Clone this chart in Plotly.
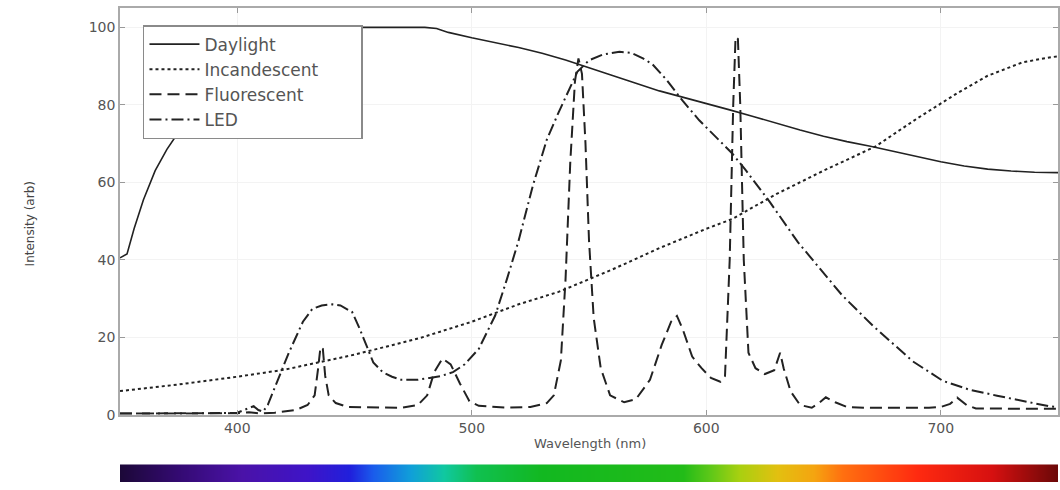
import plotly.graph_objects as go

# ---------------- data ----------------
daylight_nm = [350, 353, 356, 360, 365, 370, 375, 380, 390, 400, 410, 420, 430, 440, 450, 460,
               470, 480, 485, 490, 500, 510, 520, 530, 540, 550, 560, 570, 580, 590, 600, 610,
               620, 630, 640, 650, 660, 670, 680, 690, 700, 710, 720, 730, 740, 750]
daylight_val = [40.5, 41.5, 48, 55.5, 63, 68.5, 73, 77, 84, 90, 94.5, 97.5, 99.2, 99.8, 100, 100,
                100, 100, 99.7, 98.7, 97.3, 96.1, 94.8, 93.3, 91.6, 89.6, 87.5, 85.6, 83.6, 82, 80.3, 78.7,
                77, 75.2, 73.5, 71.9, 70.5, 69.3, 68, 66.6, 65.3, 64.2, 63.4, 62.9, 62.6, 62.5]

incand_nm = [350, 375, 400, 420, 450, 478, 500, 520, 537, 560, 580, 600, 611, 630, 650, 672,
             690, 707, 720, 735, 747, 750]
incand_val = [6.1, 7.8, 9.8, 11.6, 15.5, 19.8, 24, 28.5, 31.7, 37.5, 43, 48, 50.5, 57, 63, 69.2,
              76.5, 83, 87.5, 91, 92.3, 92.5]

fluor_nm = [350, 380, 400, 405, 410, 416, 425, 430, 433, 434.5, 435.5, 436.5, 437.5, 439, 442, 447,
            460, 470, 477, 481, 484, 487.5, 491, 495, 499, 503, 515, 525, 532, 535, 538, 540,
            542, 544, 545.5, 547, 548.5, 550, 552, 555, 559, 565, 570, 576, 581, 585, 587.5, 590,
            594, 598, 602, 606, 608, 610, 611.5, 612.5, 613.5, 614.5, 616, 618, 621, 625, 629, 631.5,
            633, 636, 640, 645, 648, 651, 655, 660, 668, 680, 695, 700, 704, 707, 711, 715,
            730, 740, 750]
fluor_val = [0.3, 0.3, 0.4, 0.6, 0.3, 0.5, 1.2, 2.5, 5, 12, 17.5, 17, 10, 5, 3, 2,
             1.8, 1.8, 2.5, 5, 11, 14.5, 13, 8, 3.5, 2.3, 1.8, 2, 3, 5, 14, 35,
             65, 86, 92, 88, 70, 45, 25, 12, 5, 3.2, 4, 9, 18, 24, 25.5, 22,
             15, 12, 9.5, 8.5, 10, 40, 80, 97.5, 97, 80, 40, 16, 12, 10.5, 11.5, 16,
             12, 6, 2.5, 1.8, 3, 4.5, 3.2, 2, 1.8, 1.8, 1.8, 2, 2.8, 4.4, 2.5, 1.6,
             1.5, 1.6, 1.5]

led_nm = [350, 380, 400, 404, 407, 409, 411, 413, 416, 419, 422, 425, 428, 432, 436, 440.5,
          444, 449, 452, 455, 458, 462, 466, 470, 477, 482, 487, 492, 497, 503, 510, 515,
          520, 526, 532, 537, 540, 545, 550, 556, 563, 568, 573, 577, 583, 590, 597, 605,
          611, 617, 627, 639, 651, 658, 671, 688, 701, 712, 724, 735, 746, 750]
led_val = [0.3, 0.3, 0.5, 1.5, 2.2, 1.2, 0.8, 2.5, 7, 12, 16, 20, 24, 27.3, 28.2, 28.5,
           28.2, 26.5, 22.5, 18, 13.5, 11, 9.8, 9, 9, 9.5, 10, 11, 13, 17, 25.6, 35,
           45, 59, 71, 78, 82, 88.5, 91.5, 93, 93.7, 93.4, 92, 90.5, 86.5, 81, 76, 71,
           67.5, 63, 55, 44.6, 36, 30.8, 23, 13.8, 8.7, 6.5, 4.9, 3.5, 2.2, 1.9]

series_names = ['Daylight', 'Incandescent', 'Fluorescent', 'LED']
x_ticks = [400, 500, 600, 700]
y_ticks = [0, 20, 40, 60, 80, 100]

# spectrum bar colour stops (fraction along the bar)
bar_pos = [0.0, 0.06, 0.13, 0.20, 0.245, 0.27, 0.31, 0.345, 0.38, 0.45, 0.60, 0.63, 0.66, 0.70,
           0.74, 0.77, 0.85, 0.93, 1.0]
bar_colors = ['#1c0838', '#330a70', '#4a12a8', '#3e14c8', '#2020dc', '#1a5cec', '#10a0d8', '#10c8a0',
              '#10c050', '#12b820', '#22bc18', '#60c818', '#a8d010', '#e2c010', '#f5a410', '#ff7010',
              '#ff2a10', '#d61010', '#6a0808']

ink = '#222222'
pad = '\u00a0' * 7  # widens the legend box like the reference

fig = go.Figure()
fig.add_trace(go.Scatter(x=daylight_nm, y=daylight_val, mode='lines', name=series_names[0],
                         line=dict(color=ink, width=1.6)))
fig.add_trace(go.Scatter(x=incand_nm, y=incand_val, mode='lines', name=series_names[1] + pad,
                         line=dict(color=ink, width=2, dash='dot')))
fig.add_trace(go.Scatter(x=fluor_nm, y=fluor_val, mode='lines', name=series_names[2],
                         line=dict(color=ink, width=2, dash='12px,6px')))
fig.add_trace(go.Scatter(x=led_nm, y=led_val, mode='lines', name=series_names[3],
                         line=dict(color=ink, width=2, dash='12px,4px,2px,4px')))

fig.add_trace(go.Heatmap(x=bar_pos, y=[0], z=[bar_pos], zmin=0, zmax=1,
                         colorscale=[[p, c] for p, c in zip(bar_pos, bar_colors)],
                         zsmooth='best', showscale=False, hoverinfo='skip',
                         xaxis='x2', yaxis='y2'))

tickfont = dict(family='DejaVu Sans', size=14, color='#555555')

fig.update_layout(
    width=1060, height=490,
    margin=dict(l=120, r=2, t=8, b=0),
    paper_bgcolor='white', plot_bgcolor='white',
    showlegend=True,
    legend=dict(x=0.0245, y=0.964, xanchor='left', yanchor='top',
                bgcolor='white', bordercolor='#8a8a8a', borderwidth=1.5,
                font=dict(family='DejaVu Sans', size=17, color='#555555'),
                itemwidth=50),
    xaxis=dict(range=[350, 750], domain=[0, 1], anchor='y',
               tickvals=x_ticks, ticks='inside', ticklen=5, tickcolor='#999999',
               showline=True, linecolor='#aaaaaa', linewidth=1.5, mirror='ticks',
               showgrid=True, gridcolor='#f3f3f3', zeroline=False, tickfont=tickfont),
    yaxis=dict(range=[0, 105], domain=[0.142, 1], anchor='x',
               tickvals=y_ticks, ticks='inside', ticklen=5, tickcolor='#999999',
               showline=True, linecolor='#aaaaaa', linewidth=1.5, mirror='ticks',
               showgrid=True, gridcolor='#f3f3f3', zeroline=False, tickfont=tickfont),
    xaxis2=dict(range=[0, 1], domain=[0, 1], anchor='y2', visible=False),
    yaxis2=dict(range=[-0.5, 0.5], domain=[0, 0.0373], anchor='x2', visible=False),
    annotations=[
        dict(text='Intensity (arb)', xref='paper', yref='paper', x=-0.0959, y=0.5436,
             textangle=-90, showarrow=False, xanchor='center', yanchor='middle',
             font=dict(family='DejaVu Sans', size=12, color='#444444')),
        dict(text='Wavelength (nm)', xref='paper', yref='paper', x=0.501, y=0.081,
             showarrow=False, xanchor='center', yanchor='middle',
             font=dict(family='DejaVu Sans', size=13, color='#555555')),
    ],
)

post = (
    "document.documentElement.style.margin='0';"
    "document.documentElement.style.padding='0';"
    "document.documentElement.style.overflow='hidden';"
    "document.body.style.margin='0';"
    "document.body.style.padding='0';"
    "document.body.style.overflow='hidden';"
)

fig.write_html('out.html', config={'displayModeBar': False}, post_script=post)
